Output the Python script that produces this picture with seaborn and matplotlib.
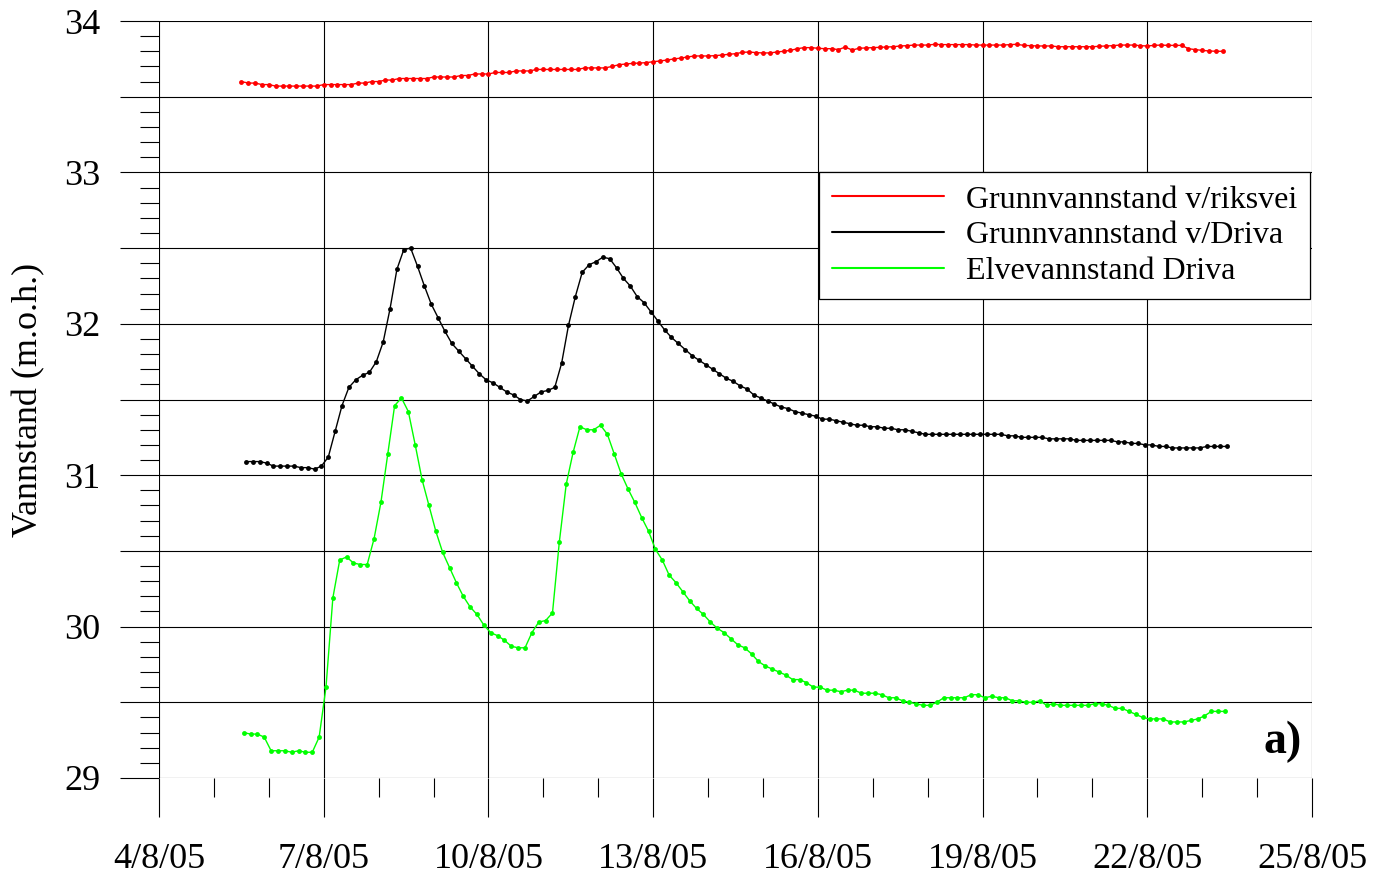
import matplotlib.pyplot as plt
import matplotlib.dates as mdates
from matplotlib.lines import Line2D
from matplotlib.ticker import MultipleLocator
import numpy as np
import pandas as pd
import seaborn as sns

# 3-hourly water levels, 5/8/05 - 23/8/05
riksvei = [33.60, 33.59, 33.59, 33.58, 33.58, 33.57, 33.57, 33.57, 33.57, 33.57,
           33.57, 33.57, 33.58, 33.58, 33.58, 33.58, 33.58, 33.59, 33.59, 33.60,
           33.60, 33.61, 33.61, 33.62, 33.62, 33.62, 33.62, 33.62, 33.63, 33.63,
           33.63, 33.63, 33.64, 33.64, 33.65, 33.65, 33.65, 33.66, 33.66, 33.66,
           33.67, 33.67, 33.67, 33.68, 33.68, 33.68, 33.68, 33.68, 33.68, 33.68,
           33.69, 33.69, 33.69, 33.69, 33.70,
           33.711, 33.716, 33.720, 33.722, 33.725, 33.731, 33.736, 33.742, 33.749, 33.755,
           33.762, 33.769, 33.769, 33.769, 33.771, 33.775, 33.780, 33.784, 33.793, 33.795,
           33.791, 33.789, 33.789, 33.795, 33.800, 33.806, 33.817, 33.824, 33.824, 33.820,
           33.817, 33.817, 33.811, 33.828, 33.808, 33.820, 33.822, 33.824, 33.826, 33.828,
           33.830, 33.835, 33.837, 33.841, 33.841, 33.841, 33.846, 33.844, 33.844, 33.844,
           33.844, 33.844, 33.841, 33.841, 33.841, 33.841, 33.841, 33.844, 33.846, 33.839,
           33.837, 33.835, 33.835, 33.835, 33.830, 33.830, 33.830, 33.830, 33.830, 33.830,
           33.833, 33.835, 33.837, 33.841, 33.841, 33.841, 33.837, 33.835, 33.839, 33.841,
           33.839, 33.839, 33.839, 33.817, 33.811, 33.806, 33.802, 33.800, 33.800]

driva_grunn = [31.09, 31.09, 31.09, 31.08, 31.06, 31.06, 31.06, 31.06, 31.05, 31.05, 31.04, 31.06,
               31.12, 31.29, 31.46, 31.58, 31.63, 31.66, 31.68, 31.75, 31.88, 32.10, 32.36, 32.49,
               32.50, 32.38, 32.25, 32.13, 32.04, 31.95, 31.87, 31.82, 31.77, 31.72, 31.67, 31.63,
               31.61, 31.58, 31.55, 31.53, 31.50, 31.49, 31.52, 31.55, 31.56, 31.58, 31.74, 31.99,
               32.18, 32.34, 32.39, 32.41, 32.44, 32.43, 32.37, 32.30, 32.25, 32.18, 32.14, 32.08,
               32.02, 31.96, 31.91, 31.87, 31.83, 31.79, 31.76, 31.73, 31.70, 31.67, 31.64, 31.62,
               31.59, 31.57, 31.53, 31.51, 31.49, 31.47, 31.45, 31.44, 31.42, 31.41, 31.40, 31.39,
               31.37, 31.37, 31.36, 31.35, 31.34, 31.33, 31.33, 31.32, 31.32, 31.31, 31.31, 31.30,
               31.30, 31.29, 31.28, 31.27, 31.27, 31.27, 31.27, 31.27, 31.27, 31.27, 31.27, 31.27,
               31.27, 31.27, 31.27, 31.26, 31.26, 31.25, 31.25, 31.25, 31.25, 31.24, 31.24, 31.24,
               31.24, 31.23, 31.23, 31.23, 31.23, 31.23, 31.23, 31.22, 31.22, 31.21, 31.21, 31.20,
               31.20, 31.19, 31.19, 31.18, 31.18, 31.18, 31.18, 31.18, 31.19, 31.19, 31.19, 31.19]

driva_elv = [29.30, 29.29, 29.29, 29.27, 29.18, 29.18, 29.18, 29.17, 29.18, 29.17, 29.17, 29.27,
             29.60, 30.19, 30.44, 30.46, 30.42, 30.41, 30.41, 30.58, 30.82, 31.14, 31.46, 31.51,
             31.42, 31.20, 30.97, 30.80, 30.63, 30.49, 30.39, 30.29, 30.20, 30.13, 30.08, 30.01,
             29.96, 29.94, 29.91, 29.87, 29.86, 29.86, 29.96, 30.03, 30.04, 30.09, 30.56, 30.94,
             31.15, 31.32, 31.30, 31.30, 31.33, 31.27, 31.14, 31.01, 30.91, 30.82, 30.72, 30.63,
             30.51, 30.44, 30.34, 30.29, 30.23, 30.17, 30.12, 30.08, 30.03, 29.99, 29.96, 29.92,
             29.88, 29.86, 29.82, 29.77, 29.74, 29.72, 29.70, 29.68, 29.65, 29.65, 29.63, 29.60,
             29.60, 29.58, 29.58, 29.57, 29.58, 29.58, 29.56, 29.56, 29.56, 29.55, 29.53, 29.53,
             29.51, 29.50, 29.49, 29.48, 29.48, 29.50, 29.53, 29.53, 29.53, 29.53, 29.55, 29.55,
             29.53, 29.54, 29.53, 29.53, 29.51, 29.51, 29.50, 29.50, 29.51, 29.48, 29.49, 29.48,
             29.48, 29.48, 29.48, 29.48, 29.49, 29.49, 29.48, 29.46, 29.46, 29.44, 29.42, 29.40,
             29.39, 29.39, 29.39, 29.37, 29.37, 29.37, 29.38, 29.39, 29.41, 29.44, 29.44, 29.44]

series_names = ["Grunnvannstand v/riksvei", "Grunnvannstand v/Driva", "Elvevannstand Driva"]
series_values = [riksvei, driva_grunn, driva_elv]
series_start = ["2005-08-05 12:00", "2005-08-05 14:00", "2005-08-05 13:00"]
series_colors = ["#ff0000", "#000000", "#00ff00"]

x_tick_dates = ["2005-08-04", "2005-08-07", "2005-08-10", "2005-08-13",
                "2005-08-16", "2005-08-19", "2005-08-22", "2005-08-25"]
x_tick_labels = ["4/8/05", "7/8/05", "10/8/05", "13/8/05", "16/8/05", "19/8/05", "22/8/05", "25/8/05"]
y_ticks = [29, 29.5, 30, 30.5, 31, 31.5, 32, 32.5, 33, 33.5, 34]
y_tick_labels = ["29", "", "30", "", "31", "", "32", "", "33", "", "34"]

frames = []
for name, vals, start in zip(series_names, series_values, series_start):
    frames.append(pd.DataFrame({
        "tid": pd.date_range(start, periods=len(vals), freq="3h"),
        "vannstand": vals,
        "serie": name,
    }))
df = pd.concat(frames, ignore_index=True)
palette = dict(zip(series_names, series_colors))

sns.set_style("white")
plt.rcParams['font.family'] = ['Liberation Serif', 'DejaVu Serif']
plt.rcParams.update({"text.color": "black", "axes.labelcolor": "black",
                     "xtick.color": "black", "ytick.color": "black"})

fig = plt.figure(figsize=(13.86, 8.76), dpi=100)
ax = fig.add_axes([159 / 1386, 1 - 778 / 876, (1312 - 159) / 1386, (778 - 21) / 876])

sns.lineplot(data=df, x="tid", y="vannstand", hue="serie", palette=palette,
             estimator=None, sort=False, marker="o", markersize=3.5,
             markeredgewidth=0, linewidth=1.0, legend=False, ax=ax)

ax.set_xlim(pd.Timestamp(x_tick_dates[0]), pd.Timestamp(x_tick_dates[-1]))
ax.set_ylim(y_ticks[0], y_ticks[-1])
ax.set_xticks(pd.to_datetime(x_tick_dates))
ax.set_xticklabels(x_tick_labels)
ax.xaxis.set_minor_locator(mdates.DayLocator())
ax.set_yticks(y_ticks)
ax.set_yticklabels(y_tick_labels)
ax.yaxis.set_minor_locator(MultipleLocator(0.1))

ax.grid(True, which="major", color="black", linewidth=0.8)
for s in ax.spines.values():
    s.set_visible(False)
ax.tick_params(which="both", bottom=True, left=True, top=False, right=False,
               direction="out", width=0.8, color="black")
ax.tick_params(which="major", length=28, labelsize=26, labelcolor="black")
ax.tick_params(axis="y", which="major", pad=14)
ax.tick_params(axis="x", which="major", pad=19)
ax.tick_params(which="minor", length=14)

ax.set_xlabel("")
ax.set_ylabel("Vannstand (m.o.h.)", fontsize=26, color="black")
ax.yaxis.set_label_coords(-0.099, 0.5)

handles = [Line2D([], [], color=c, linewidth=1.5) for c in series_colors]
leg = ax.legend(handles, series_names, loc="upper right", bbox_to_anchor=(0.9983, 0.8),
                borderaxespad=0, fontsize=23, frameon=True, fancybox=False,
                edgecolor="black", framealpha=1, handlelength=3.5, handletextpad=0.7,
                borderpad=0.4, labelspacing=0.2)
leg.get_frame().set_linewidth(0.9)

ax.text(0.9913, 0.0476, "a)", transform=ax.transAxes, ha="right", va="center",
        fontsize=33, fontweight="bold")

fig.savefig("out.png", dpi=100)
